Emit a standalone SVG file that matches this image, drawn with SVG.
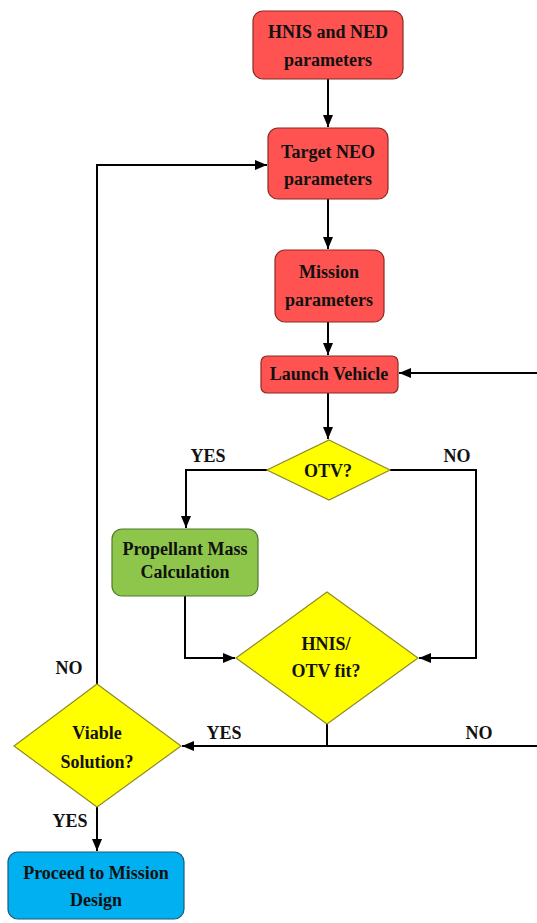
<svg xmlns="http://www.w3.org/2000/svg" width="537" height="923" viewBox="0 0 537 923">
<style>
.red{fill:#fe5350;stroke:#8a2a22;stroke-width:1.2}
.yel{fill:#ffff00;stroke:#8f8a2a;stroke-width:1.2}
.grn{fill:#8dc64a;stroke:#4f7a2a;stroke-width:1.2}
.blu{fill:#00b0f0;stroke:#1b5a7a;stroke-width:1.2}
text{font-family:"Liberation Serif","Times New Roman",serif;font-weight:bold;font-size:18px;fill:#111;text-anchor:middle}
.c{fill:none;stroke:#000;stroke-width:2}
</style>
<defs>
<marker id="ah" markerUnits="userSpaceOnUse" viewBox="0 0 12 10" refX="12" refY="5" markerWidth="12" markerHeight="10" orient="auto">
<path d="M0,0 L12,5 L0,10 Z" fill="#000"/>
</marker>
</defs>
<g id="connectors">
<path class="c" d="M328,79 V127" marker-end="url(#ah)"/>
<path class="c" d="M328,199 V249" marker-end="url(#ah)"/>
<path class="c" d="M328,322 V355" marker-end="url(#ah)"/>
<path class="c" d="M328,393 V439" marker-end="url(#ah)"/>
<path class="c" d="M267,470 H186 V528" marker-end="url(#ah)"/>
<path class="c" d="M390,470 H476 V658 H419" marker-end="url(#ah)"/>
<path class="c" d="M185,596 V658 H235" marker-end="url(#ah)"/>
<path class="c" d="M327,724 V746"/>
<path class="c" d="M537,746 H182" marker-end="url(#ah)"/>
<path class="c" d="M537,373 H399" marker-end="url(#ah)"/>
<path class="c" d="M97,684 V165 H267" marker-end="url(#ah)"/>
<path class="c" d="M97,807 V851" marker-end="url(#ah)"/>
<text x="208" y="462">YES</text>
<text x="457" y="462">NO</text>
<text x="69" y="674">NO</text>
<text x="224" y="739">YES</text>
<text x="479" y="739">NO</text>
<text x="70" y="827">YES</text>
</g>
<g id="hnis-ned">
<rect class="red" x="253" y="11" width="150" height="68" rx="10"/>
<text x="328" y="38">HNIS and NED</text>
<text x="328" y="66">parameters</text>
</g>
<g id="target-neo">
<rect class="red" x="268" y="128" width="120" height="71" rx="10"/>
<text x="328" y="158">Target NEO</text>
<text x="328" y="185">parameters</text>
</g>
<g id="mission">
<rect class="red" x="275" y="250" width="109" height="72" rx="10"/>
<text x="329" y="278">Mission</text>
<text x="329" y="306">parameters</text>
</g>
<g id="launch-vehicle">
<rect class="red" x="261" y="356" width="137" height="37" rx="6"/>
<text x="329" y="380">Launch Vehicle</text>
</g>
<g id="otv">
<polygon class="yel" points="329,440 390,470 329,500 267,470"/>
<text x="328" y="477">OTV?</text>
</g>
<g id="propellant">
<rect class="grn" x="112" y="529" width="146" height="67" rx="10"/>
<text x="185" y="555">Propellant Mass</text>
<text x="185" y="578">Calculation</text>
</g>
<g id="fit">
<polygon class="yel" points="327,592 418,658 327,724 236,658"/>
<text x="326" y="650">HNIS/</text>
<text x="326" y="677">OTV fit?</text>
</g>
<g id="viable">
<polygon class="yel" points="97,684 181,746 97,807 14,746"/>
<text x="97" y="739">Viable</text>
<text x="97" y="768">Solution?</text>
</g>
<g id="proceed">
<rect class="blu" x="8" y="852" width="176" height="67" rx="10"/>
<text x="96" y="879">Proceed to Mission</text>
<text x="96" y="906">Design</text>
</g>
</svg>
